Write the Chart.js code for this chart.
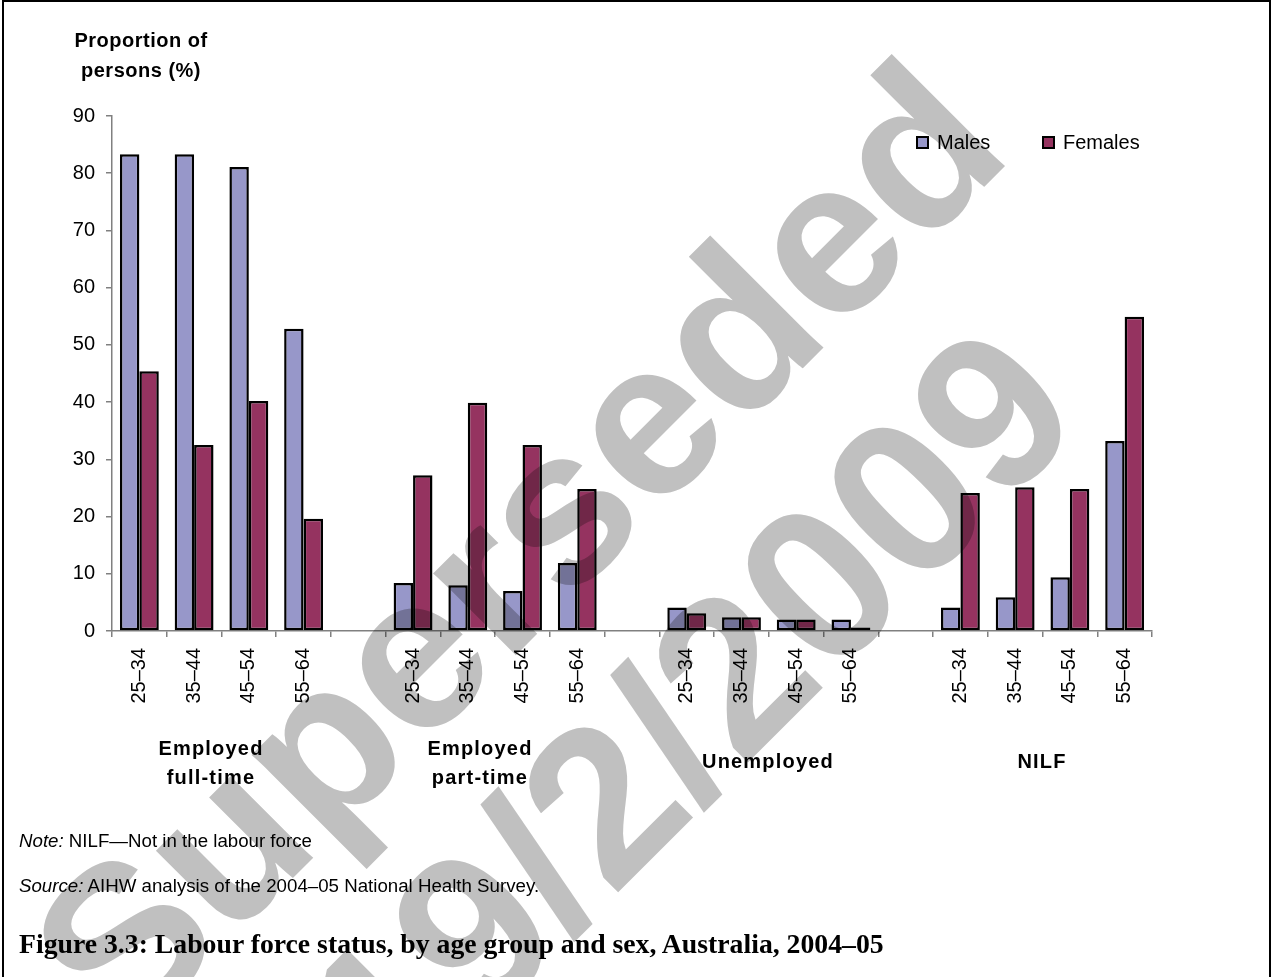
<!DOCTYPE html>
<html>
<head>
<meta charset="utf-8">
<script src="https://cdn.jsdelivr.net/npm/chart.js@4.4.1/dist/chart.umd.min.js"></script>
<style>
  html, body { margin:0; padding:0; background:#fff; }
  body { width:1271px; height:977px; position:relative; overflow:hidden; font-family:"Liberation Sans", Arial, sans-serif; color:#000; }
  #frame { position:absolute; left:2px; top:0; width:1269px; height:1000px; box-sizing:border-box;
           border-left:2px solid #000; border-top:2px solid #000; border-right:2px solid #000; }
  #myChart { position:absolute; left:0; top:0; }
  .t { position:absolute; white-space:nowrap; }
  .bold { font-weight:bold; font-size:20px; letter-spacing:1.2px; text-align:center; line-height:29px; }
  .leg { position:absolute; font-size:20px; line-height:20px; }
  .box { position:absolute; width:13px; height:13px; box-sizing:border-box; border:2px solid #000; }
  .small { font-size:18.7px; line-height:20px; left:19px; }
  #caption { left:19px; top:930px; font-family:"Liberation Serif", serif; font-weight:bold; font-size:24px; line-height:28px; }
</style>
</head>
<body>
<div id="frame"></div>
<canvas id="myChart" width="1271" height="977"></canvas>

<div class="t bold" style="left:41px; top:25px; width:200px; line-height:30px; letter-spacing:0.5px;">Proportion of<br>persons (%)</div>

<div class="box" style="left:916px; top:136px; background:#9797C9;"></div>
<div class="leg" style="left:937px; top:132px;">Males</div>
<div class="box" style="left:1042px; top:136px; background:#953360;"></div>
<div class="leg" style="left:1063px; top:132px;">Females</div>

<div class="t bold" style="left:111px; top:734px; width:200px;">Employed<br>full-time</div>
<div class="t bold" style="left:380px; top:734px; width:200px;">Employed<br>part-time</div>
<div class="t bold" style="left:668px; top:747px; width:200px;">Unemployed</div>
<div class="t bold" style="left:942px; top:747px; width:200px;">NILF</div>

<div class="t small" style="top:831px;"><i>Note:</i> NILF—Not in the labour force</div>
<div class="t small" style="top:876px;"><i>Source:</i> AIHW analysis of the 2004–05 National Health Survey.</div>
<div class="t" id="caption">Figure 3.3: Labour force status, by age group and sex, Australia, 2004–05</div>

<script>
// age groups shown under each block of bars
var ageGroups = ['25–34', '35–44', '45–54', '55–64'];

// values (% of persons)
var malesFullTime     = [83.3, 83.3, 81.1, 52.8];
var femalesFullTime   = [45.4, 32.5, 40.2, 19.6];
var malesPartTime     = [8.4, 8.0, 7.0, 11.9];
var femalesPartTime   = [27.2, 39.9, 32.5, 24.8];
var malesUnemployed   = [4.1, 2.4, 2.0, 2.0];
var femalesUnemployed = [3.1, 2.4, 2.0, 0.6];
var malesNILF         = [4.1, 5.9, 9.4, 33.2];
var femalesNILF       = [24.1, 25.1, 24.8, 54.9];

// join the four blocks with one empty slot between them
function withGaps(blocks, gap){
  var out = [];
  blocks.forEach((b, i) => {
    if (i > 0) out.push(gap);
    out = out.concat(b);
  });
  return out;
}

var xLabels = withGaps([ageGroups, ageGroups, ageGroups, ageGroups], '');
var malesData = withGaps([malesFullTime, malesPartTime, malesUnemployed, malesNILF], null);
var femalesData = withGaps([femalesFullTime, femalesPartTime, femalesUnemployed, femalesNILF], null);

// big grey "Superseded" stamp, multiplied over the bars
var watermark = {
  id: 'watermark',
  afterDraw(chart){
    var ctx = chart.ctx;
    ctx.save();
    ctx.globalCompositeOperation = 'multiply';
    ctx.fillStyle = '#c0c0c0';
    ctx.font = 'bold 220px "Liberation Sans"';
    ctx.textAlign = 'center';
    ctx.textBaseline = 'alphabetic';
    ctx.translate(570, 601);
    ctx.rotate(-Math.PI / 4);
    ctx.fillText('Superseded', 0, 0);
    ctx.fillText('19/2/2009', 4, 240);
    ctx.restore();
  }
};

var ctx = document.getElementById('myChart').getContext('2d');
var myChart = new Chart(ctx, {
  type: 'bar',
  data: {
    labels: xLabels,
    datasets: [{
      label: 'Males',
      data: malesData,
      backgroundColor: '#9797C9',
      borderColor: '#000',
      borderWidth: 2.5,
      borderSkipped: false
    }, {
      label: 'Females',
      data: femalesData,
      backgroundColor: '#953360',
      borderColor: '#000',
      borderWidth: 2.5,
      borderSkipped: false
    }]
  },
  options: {
    responsive: false,
    animation: false,
    events: [],
    layout: { padding: { left: 0, top: 116, right: 119, bottom: 246 } },
    datasets: { bar: { categoryPercentage: 0.71, barPercentage: 1.0 } },
    plugins: {
      legend: { display: false },
      tooltip: { enabled: false }
    },
    scales: {
      x: {
        afterFit: (s) => { s.height = 100; },
        grid: { offset: true, drawOnChartArea: false, drawTicks: true, tickLength: 6, color: '#808080', lineWidth: 1.5 },
        border: { display: true, color: '#808080', width: 1.5 },
        ticks: {
          autoSkip: false, minRotation: 90, maxRotation: 90, padding: 11,
          color: '#000', font: { family: 'Liberation Sans', size: 20 }
        }
      },
      y: {
        min: 0, max: 90,
        afterFit: (s) => { s.width = 112; },
        grid: { drawOnChartArea: false, drawTicks: true, tickLength: 6, color: '#808080', lineWidth: 1.5 },
        border: { display: true, color: '#808080', width: 1.5 },
        ticks: {
          stepSize: 10, padding: 11,
          color: '#000', font: { family: 'Liberation Sans', size: 20 }
        }
      }
    }
  },
  plugins: [watermark]
});

// squeeze the caption to the width it has in the original
var cap = document.getElementById('caption');
var w = cap.getBoundingClientRect().width;
cap.style.fontSize = (24 * 865 / w).toFixed(2) + 'px';
</script>
</body>
</html>
